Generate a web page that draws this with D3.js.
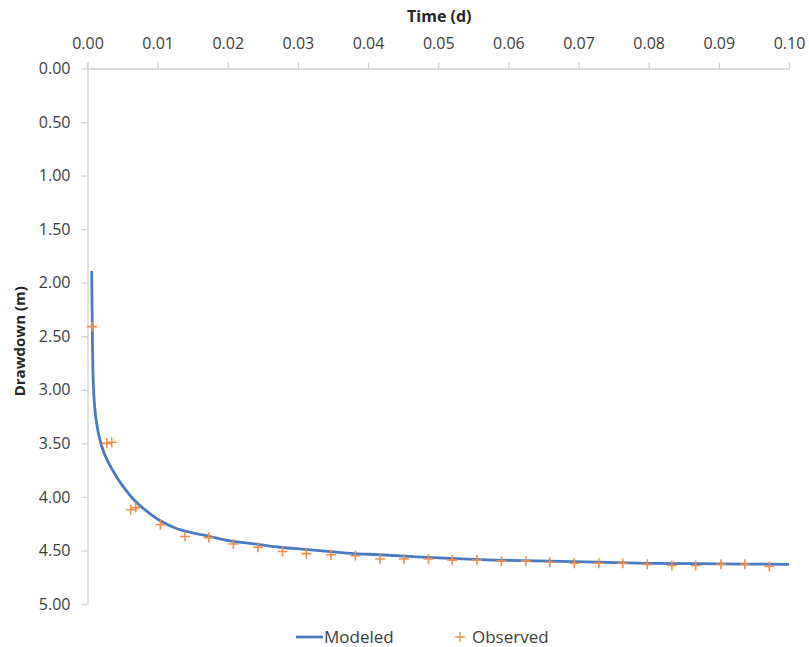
<!DOCTYPE html>
<html>
<head>
<meta charset="utf-8">
<script src="https://cdn.jsdelivr.net/npm/d3@7"></script>
<style>
  body { margin: 0; background: #fff; }
  svg { display: block; font-family: "Open Sans", sans-serif; }
</style>
</head>
<body>
<svg id="chart" width="809" height="647"></svg>
<script>
// ---- data ----
const modeledTime = [0.0006, 0.00064, 0.00068, 0.00072, 0.00077, 0.00085, 0.00095, 0.0011, 0.0013, 0.0016, 0.0020, 0.0024, 0.0028, 0.0032, 0.0038, 0.0045, 0.0055, 0.0065, 0.008, 0.0103, 0.0125, 0.0146, 0.0175, 0.0203, 0.024, 0.0274, 0.031, 0.0346, 0.038, 0.0417, 0.05, 0.058, 0.0659, 0.073, 0.08, 0.09, 0.1];
const modeledDrawdown = [1.89, 2.15, 2.41, 2.60, 2.80, 2.98, 3.10, 3.21, 3.31, 3.42, 3.52, 3.595, 3.655, 3.705, 3.775, 3.85, 3.94, 4.02, 4.11, 4.22, 4.29, 4.33, 4.37, 4.41, 4.44, 4.47, 4.49, 4.51, 4.53, 4.54, 4.57, 4.59, 4.60, 4.61, 4.62, 4.625, 4.63];

const observedTime = [0.00064, 0.00274, 0.00345, 0.00616, 0.00687, 0.0104, 0.0139, 0.0173, 0.0208, 0.0243, 0.0278, 0.0312, 0.0347, 0.0382, 0.0417, 0.0451, 0.0486, 0.0520, 0.0555, 0.0590, 0.0625, 0.0659, 0.0694, 0.0729, 0.0763, 0.0798, 0.0833, 0.0867, 0.0903, 0.0937, 0.0972];
const observedDrawdown = [2.41, 3.50, 3.49, 4.12, 4.10, 4.26, 4.37, 4.38, 4.44, 4.47, 4.51, 4.53, 4.54, 4.55, 4.58, 4.58, 4.58, 4.59, 4.59, 4.60, 4.60, 4.61, 4.62, 4.62, 4.62, 4.63, 4.64, 4.64, 4.63, 4.63, 4.65];

const xTicks = [0, 0.01, 0.02, 0.03, 0.04, 0.05, 0.06, 0.07, 0.08, 0.09, 0.10];
const yTicks = [0, 0.5, 1.0, 1.5, 2.0, 2.5, 3.0, 3.5, 4.0, 4.5, 5.0];
const seriesNames = ["Modeled", "Observed"];
const xTitle = "Time (d)";
const yTitle = "Drawdown (m)";

// ---- drawing ----
const svg = d3.select("#chart");
const lineColor = "#4a7bbf";
const markColor = "#ef8e4f";
const axisColor = "#d0d0d0";
const textColor = "#404040";

const x = d3.scaleLinear().domain([0, 0.10]).range([87.5, 789]);
const y = d3.scaleLinear().domain([0, 5]).range([68.5, 604]);

const xAxis = svg.append("g")
  .attr("transform", `translate(0,${y(0)})`)
  .call(d3.axisTop(x).tickValues(xTicks).tickFormat(d3.format(".2f")).tickSize(6).tickSizeOuter(0).tickPadding(14));
const yAxis = svg.append("g")
  .attr("transform", `translate(${x(0)},0)`)
  .call(d3.axisLeft(y).tickValues(yTicks).tickFormat(d3.format(".2f")).tickSize(6).tickSizeOuter(0).tickPadding(11));

[xAxis, yAxis].forEach(g => {
  g.select(".domain").attr("stroke", axisColor).attr("stroke-width", 1.3);
  g.selectAll(".tick line").attr("stroke", axisColor).attr("stroke-width", 1.3);
  g.selectAll(".tick text").attr("fill", textColor).style("font-size", "16px").style("font-family", "'Open Sans', sans-serif");
});
// y axis line extends up to the x-axis tick top
svg.append("line")
  .attr("x1", x(0)).attr("x2", x(0))
  .attr("y1", y(0) - 6).attr("y2", y(0))
  .attr("stroke", axisColor).attr("stroke-width", 1.3);

// titles
svg.append("text")
  .attr("x", x(0.05) + 1).attr("y", 22)
  .attr("text-anchor", "middle")
  .attr("font-weight", "bold").attr("font-size", 16)
  .attr("fill", "#262626")
  .text(xTitle);
svg.append("text")
  .attr("transform", `translate(25,${(y(0) + y(5)) / 2 + 5}) rotate(-90)`)
  .attr("text-anchor", "middle")
  .attr("font-weight", "bold").attr("font-size", 15)
  .attr("fill", "#262626")
  .text(yTitle);

// modeled line
const modeled = modeledTime.map((t, i) => [t, modeledDrawdown[i]]);
svg.append("path")
  .datum(modeled)
  .attr("fill", "none")
  .attr("stroke", lineColor)
  .attr("stroke-width", 2.8)
  .attr("stroke-linejoin", "round")
  .attr("d", d3.line().x(d => x(d[0])).y(d => y(d[1])).curve(d3.curveCatmullRom.alpha(0.5)));

// observed markers
const observed = observedTime.map((t, i) => [t, observedDrawdown[i]]);
svg.append("g").selectAll("path")
  .data(observed)
  .join("path")
  .attr("transform", d => `translate(${x(d[0])},${y(d[1])})`)
  .attr("d", "M-5,0H5M0,-5V5")
  .attr("stroke", markColor)
  .attr("stroke-width", 1.6)
  .attr("fill", "none");

// legend
const lg = svg.append("g");
lg.append("line").attr("x1", 296).attr("x2", 323).attr("y1", 637).attr("y2", 637)
  .attr("stroke", lineColor).attr("stroke-width", 2.8);
lg.append("text").attr("x", 324).attr("y", 643).attr("font-size", 17).attr("fill", textColor).text(seriesNames[0]);
lg.append("path").attr("transform", "translate(460,637)").attr("d", "M-5,0H5M0,-5V5")
  .attr("stroke", markColor).attr("stroke-width", 1.4).attr("fill", "none");
lg.append("text").attr("x", 472).attr("y", 643).attr("font-size", 17).attr("fill", textColor).text(seriesNames[1]);
</script>
</body>
</html>
